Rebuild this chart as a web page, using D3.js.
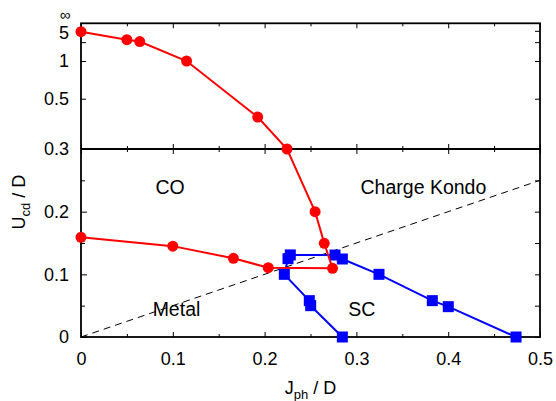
<!DOCTYPE html>
<html>
<head>
<meta charset="utf-8">
<script src="https://cdn.jsdelivr.net/npm/d3@7"></script>
<style>
body { margin: 0; background: #fff; }
</style>
</head>
<body>
<div id="chart"></div>
<script>
// phase boundary values
const redJ = [0, 0.1, 0.166, 0.204, 0.274, 0.265, 0.255, 0.2244, 0.1925, 0.115, 0.064, 0.05, 0];
const redU = [0.159, 0.145, 0.1256, 0.1106, 0.1096, 0.1495, 0.2, 0.3, 0.402, 1.0, 2.07, 2.3, 4.5];
const blueJ = [0.2847, 0.2502, 0.2487, 0.2215, 0.2255, 0.228, 0.2767, 0.2847, 0.3246, 0.3827, 0.4001, 0.4739];
const blueU = [0, 0.05, 0.058, 0.1, 0.125, 0.131, 0.1308, 0.1245, 0.1, 0.058, 0.0484, 0];
const guideJ = [0, 0.5];
const guideU = [0, 0.25];

const xTicks = [0, 0.1, 0.2, 0.3, 0.4, 0.5];
const xMinorTicks = [0.05, 0.15, 0.25, 0.35, 0.45];
const lowTicks = [0, 0.1, 0.2, 0.3];
const lowMinorTicks = [0.05, 0.15, 0.25];
const highTicks = [0.5, 1, 5];
const highMinorTicks = [2];

const width = 556, height = 401;
const font = '"Liberation Sans", Arial, Helvetica, sans-serif';
const x0 = 81, x1 = 540, yTop = 23.3, yMid = 149, yBot = 337;

const xScale = d3.scaleLinear().domain([0, 0.5]).range([x0, x1]);
const yLow = d3.scaleLinear().domain([0, 0.3]).range([yBot, yMid]);
// upper panel is linear in 1/U, infinity at the top edge
const yHigh = d3.scaleLinear().domain([0, 1 / 0.3]).range([yTop, yMid]);
const yPos = (u) => (u <= 0.3 ? yLow(u) : yHigh(1 / u));

const svg = d3.select("#chart").append("svg")
  .attr("width", width)
  .attr("height", height);

const addAxis = (axis, transform) => {
  const g = svg.append("g")
    .attr("transform", transform)
    .call(axis)
    .attr("font-family", font)
    .attr("font-size", 18);
  g.select(".domain").remove();
  g.selectAll(".tick line").attr("stroke", "#000").attr("stroke-width", 1);
  g.selectAll(".tick text").attr("fill", "#000");
  return g;
};

// x ticks: bottom edge, middle line (both ways), top edge
addAxis(d3.axisBottom(xScale).tickValues(xTicks).tickSize(-5).tickPadding(15).tickFormat(d3.format("")), `translate(0,${yBot})`);
addAxis(d3.axisBottom(xScale).tickValues(xMinorTicks).tickSize(-3).tickFormat(""), `translate(0,${yBot})`);
addAxis(d3.axisBottom(xScale).tickValues(xTicks).tickSize(5).tickFormat(""), `translate(0,${yMid})`);
addAxis(d3.axisTop(xScale).tickValues(xTicks).tickSize(5).tickFormat(""), `translate(0,${yMid})`);
addAxis(d3.axisBottom(xScale).tickValues(xMinorTicks).tickSize(3).tickFormat(""), `translate(0,${yMid})`);
addAxis(d3.axisTop(xScale).tickValues(xMinorTicks).tickSize(3).tickFormat(""), `translate(0,${yMid})`);
addAxis(d3.axisTop(xScale).tickValues(xTicks).tickSize(-5).tickFormat(""), `translate(0,${yTop})`);
addAxis(d3.axisTop(xScale).tickValues(xMinorTicks).tickSize(-3).tickFormat(""), `translate(0,${yTop})`);

// lower panel y ticks
addAxis(d3.axisLeft(yLow).tickValues(lowTicks).tickSize(-6).tickPadding(12).tickFormat(d3.format("")), `translate(${x0},0)`);
addAxis(d3.axisLeft(yLow).tickValues(lowMinorTicks).tickSize(-4).tickFormat(""), `translate(${x0},0)`);
addAxis(d3.axisRight(yLow).tickValues(lowTicks.concat(lowMinorTicks)).tickSize(-5).tickFormat(""), `translate(${x1},0)`);

// upper panel y ticks
const inv = (u) => 1 / u;
const highAxis = addAxis(d3.axisLeft(yHigh).tickValues(highTicks.map(inv)).tickSize(-5).tickPadding(12)
  .tickFormat((v) => d3.format("")(Math.round(100 / v) / 100)), `translate(${x0},0)`);
// the "5" label sits a little low in the reference
highAxis.selectAll(".tick text").filter((v) => v < 0.5).attr("dy", "0.45em");
addAxis(d3.axisLeft(yHigh).tickValues(highMinorTicks.map(inv)).tickSize(-5).tickFormat(""), `translate(${x0},0)`);
addAxis(d3.axisRight(yHigh).tickValues(highTicks.concat(highMinorTicks).map(inv)).tickSize(-5).tickFormat(""), `translate(${x1},0)`);

svg.append("text")
  .attr("x", x0 - 16)
  .attr("y", yHigh(0) - 3)
  .attr("text-anchor", "middle")
  .attr("font-family", font)
  .attr("font-size", 15)
  .text("\u221e");

// frame
svg.append("rect")
  .attr("x", x0).attr("y", yTop)
  .attr("width", x1 - x0).attr("height", yBot - yTop)
  .attr("fill", "none").attr("stroke", "#000").attr("stroke-width", 1.8);
svg.append("line")
  .attr("x1", x0).attr("x2", x1).attr("y1", yMid).attr("y2", yMid)
  .attr("stroke", "#000").attr("stroke-width", 2);

// dashed guide
const line = d3.line().x((d) => xScale(d[0])).y((d) => yPos(d[1]));
svg.append("path")
  .datum(d3.zip(guideJ, guideU))
  .attr("d", line)
  .attr("fill", "none").attr("stroke", "#000").attr("stroke-width", 1)
  .attr("stroke-dasharray", "7,5");

// blue: SC boundary
const blue = d3.zip(blueJ, blueU);
svg.append("path")
  .datum(blue)
  .attr("d", line)
  .attr("fill", "none").attr("stroke", "#0000ff").attr("stroke-width", 2);
svg.selectAll("rect.sq").data(blue).enter()
  .append("rect")
  .attr("class", "sq")
  .attr("x", (d) => xScale(d[0]) - 5.5)
  .attr("y", (d) => yPos(d[1]) - 5.5)
  .attr("width", 11).attr("height", 11)
  .attr("fill", "#0000ff");

// red: CO boundary
const red = d3.zip(redJ, redU);
svg.append("path")
  .datum(red)
  .attr("d", line)
  .attr("fill", "none").attr("stroke", "#ff0000").attr("stroke-width", 2);
svg.selectAll("circle.pt").data(red).enter()
  .append("circle")
  .attr("class", "pt")
  .attr("cx", (d) => xScale(d[0]))
  .attr("cy", (d) => yPos(d[1]))
  .attr("r", 5.5)
  .attr("fill", "#ff0000");

// region names
const labels = svg.append("g").attr("font-family", font).attr("font-size", 19.5).attr("text-anchor", "middle");
labels.append("text").attr("x", xScale(0.097)).attr("y", yLow(0.2282)).text("CO");
labels.append("text").attr("x", xScale(0.373)).attr("y", yLow(0.2282)).text("Charge Kondo");
labels.append("text").attr("x", xScale(0.104)).attr("y", yLow(0.0341)).text("Metal");
labels.append("text").attr("x", xScale(0.306)).attr("y", yLow(0.0341)).text("SC");

// axis titles
const xt = svg.append("text")
  .attr("x", (x0 + x1) / 2).attr("y", 394)
  .attr("text-anchor", "middle")
  .attr("font-family", font).attr("font-size", 18);
xt.append("tspan").text("J");
xt.append("tspan").attr("font-size", 13).attr("dy", 5).text("ph");
xt.append("tspan").attr("dy", -5).text(" / D");

const yt = svg.append("text")
  .attr("transform", "translate(25,202) rotate(-90)")
  .attr("text-anchor", "middle")
  .attr("font-family", font).attr("font-size", 18);
yt.append("tspan").text("U");
yt.append("tspan").attr("font-size", 13).attr("dy", 5).text("cd");
yt.append("tspan").attr("dy", -5).text(" / D");
</script>
</body>
</html>
